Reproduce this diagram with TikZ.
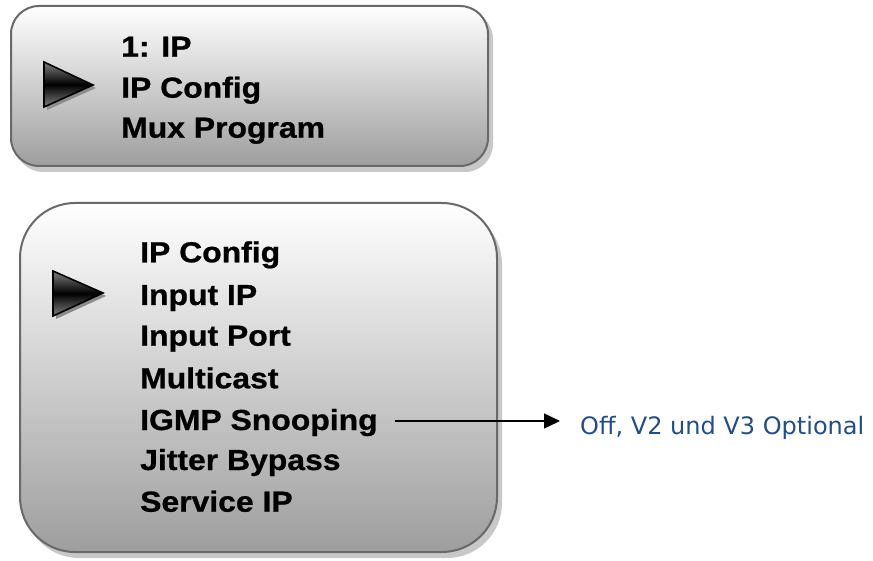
\documentclass[tikz,border=0pt]{standalone}
\usepackage{fontspec}
\setmainfont{Liberation Sans}[FakeStretch=1.1]
\newfontfamily\menufont{Liberation Sans Bold}[FakeStretch=1.1,FakeBold=0.8]
\newfontfamily\lblfont{DejaVu Sans}
\usetikzlibrary{arrows.meta}
\definecolor{boxborder}{RGB}{105,105,105}
\definecolor{boxshadow}{RGB}{200,200,200}
\definecolor{boxbottom}{RGB}{158,158,158}
\definecolor{lblblue}{RGB}{36,77,130}
\tikzset{
  menubox/.style={draw=boxborder, line width=2pt, top color=white, bottom color=boxbottom},
  shadowbox/.style={fill=boxshadow, draw=none},
  menuitem/.style={anchor=base west, inner sep=0pt, font=\menufont\fontsize{29}{29}\selectfont},
  pointer/.style={draw=black, line width=1.6pt, line join=miter, top color=black!50, bottom color=black!50, middle color=black},
  pointershadow/.style={fill=black!45, draw=none},
  arr/.style={line width=1.5pt, -{Triangle[length=16pt,width=15pt]}},
  lbl/.style={anchor=base west, inner sep=0pt, text=lblblue, font=\lblfont\fontsize{24}{24}\selectfont}
}
\begin{document}
\begin{tikzpicture}[x=1pt,y=1pt]
\useasboundingbox (0,0) rectangle (873,-561);
% ---- box 1 ----
\fill[shadowbox, rounded corners=28pt] (15,-11) rectangle (493,-172);
\path[menubox, rounded corners=28pt] (11,-6) rectangle (488,-166);
\fill[pointershadow] (47,-65) -- (96,-88) -- (47,-110) -- cycle;
\path[pointer] (44,-62) -- (93,-85) -- (44,-107) -- cycle;
\node[menuitem] (t1) at (121,-56.7) {1: IP};
\node[menuitem] (t2) at (121,-97.7) {IP Config};
\node[menuitem] (t3) at (121,-137.7) {Mux Program};
% ---- box 2 ----
\fill[shadowbox, rounded corners=55pt] (24,-209) rectangle (502,-558);
\path[menubox, rounded corners=55pt] (20,-203) rectangle (497,-552);
\fill[pointershadow] (56,-274) -- (106,-296) -- (56,-319) -- cycle;
\path[pointer] (53,-271) -- (103,-293) -- (53,-316) -- cycle;
\node[menuitem] (m1) at (140,-262.3) {IP Config};
\node[menuitem] (m2) at (140,-305) {Input IP};
\node[menuitem] (m3) at (140,-345.7) {Input Port};
\node[menuitem] (m4) at (140,-388.3) {Multicast};
\node[menuitem] (m5) at (140,-430) {IGMP Snooping};
\node[menuitem] (m6) at (140,-470) {Jitter Bypass};
\node[menuitem] (m7) at (140,-511.7) {Service IP};
% ---- annotation ----
\node[lbl] (note) at (580,-434.3) {Off, V2 und V3 Optional};
\coordinate (a) at (395,-421);
\draw[arr, shorten >=20pt] (a) -- (a -| note.west);
\end{tikzpicture}
\end{document}
